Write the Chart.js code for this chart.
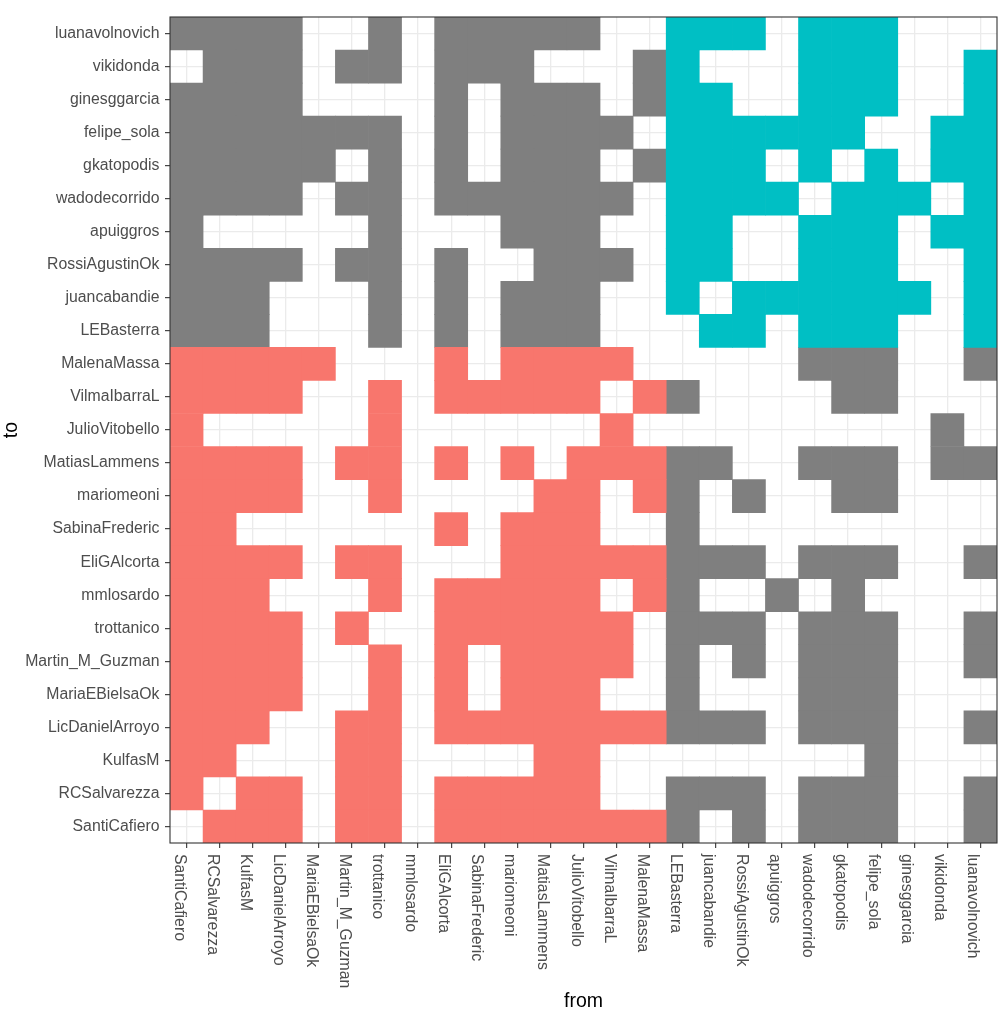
<!DOCTYPE html>
<html>
<head>
<meta charset="utf-8">
<script src="https://cdn.jsdelivr.net/npm/chart.js@4"></script>
<style>
  html, body { margin: 0; padding: 0; background: #ffffff; }
  #wrap { width: 1008px; height: 1024px; }
</style>
</head>
<body>
<div id="wrap"><canvas id="c" width="1008" height="1024"></canvas></div>
<script>
// Accounts of the first bloc (red inside the bloc)
const groupRed = ["SantiCafiero","RCSalvarezza","KulfasM","LicDanielArroyo","MariaEBielsaOk",
  "Martin_M_Guzman","trottanico","mmlosardo","EliGAlcorta","SabinaFrederic","mariomeoni",
  "MatiasLammens","JulioVitobello","VilmaIbarraL","MalenaMassa"];
// Accounts of the second bloc (cyan inside the bloc)
const groupCyan = ["LEBasterra","juancabandie","RossiAgustinOk","apuiggros","wadodecorrido",
  "gkatopodis","felipe_sola","ginesggarcia","vikidonda","luanavolnovich"];
// Axis order ("from" left to right, "to" bottom to top)
const nodes = groupRed.concat(groupCyan);

// "to" rows as read from top to bottom
const toLabels = ["luanavolnovich","vikidonda","ginesggarcia","felipe_sola","gkatopodis",
  "wadodecorrido","apuiggros","RossiAgustinOk","juancabandie","LEBasterra","MalenaMassa",
  "VilmaIbarraL","JulioVitobello","MatiasLammens","mariomeoni","SabinaFrederic","EliGAlcorta",
  "mmlosardo","trottanico","Martin_M_Guzman","MariaEBielsaOk","LicDanielArroyo","KulfasM",
  "RCSalvarezza","SantiCafiero"];

// 1 = link from the "from" account (column, in nodes order) to the row's account
const linkRows = [
  "1111001011111001110111000",
  "0111011011100011000111001",
  "1111000010111011100111001",
  "1111111010111101111110011",
  "1111101010111011110101011",
  "1111011011111101111011101",
  "1000001000111001100111011",
  "1111011010011101100111001",
  "1110001010111001011111101",
  "1110001010111000110111001",
  "1111100010111100000111001",
  "1111001011111011000011000",
  "1000001000000100000000010",
  "1111011010101111100111011",
  "1111001000011011010011000",
  "1100000010111001000000000",
  "1111011000111111110111001",
  "1110001011111011001010000",
  "1111010011111101110111001",
  "1111001010111101010111001",
  "1111001010111001000111000",
  "1110011011111111110111001",
  "1100011000011000000001000",
  "1011011011111001110111001",
  "0111011011111111010111001"
];

const cells = { red: [], cyan: [], gray: [] };
toLabels.forEach((to, i) => {
  const yv = nodes.indexOf(to);
  const toRed = groupRed.includes(to);
  linkRows[i].split('').forEach((c, j) => {
    if (c !== '1') return;
    const from = nodes[j];
    const fromRed = groupRed.includes(from);
    const key = (fromRed && toRed) ? 'red' : (!fromRed && !toRed) ? 'cyan' : 'gray';
    cells[key].push({ x: from, y: [yv - 0.5, yv + 0.5] });
  });
});

const FONT = "'Liberation Sans', Arial, Helvetica, sans-serif";
const TICK_SIZE = 15.8;
const TICK_COLOR = '#4D4D4D';

const panelPlugin = {
  id: 'panel',
  afterDraw(chart) {
    const { ctx, chartArea: a } = chart;
    const xs = chart.scales.x;
    ctx.save();
    ctx.strokeStyle = '#333333';
    ctx.lineWidth = 1.1;
    ctx.strokeRect(a.left, a.top, a.right - a.left, a.bottom - a.top);
    ctx.fillStyle = TICK_COLOR;
    ctx.font = TICK_SIZE + 'px ' + FONT;
    ctx.textAlign = 'left';
    ctx.textBaseline = 'alphabetic';
    nodes.forEach((name, i) => {
      const px = xs.getPixelForTick(i);
      ctx.save();
      ctx.translate(px - 12, a.bottom + 11);
      ctx.rotate(Math.PI / 2);
      ctx.fillText(name, 0, 0);
      ctx.restore();
    });
    ctx.restore();
  }
};

const common = { grouped: false, barPercentage: 1, categoryPercentage: 1, borderWidth: 0, borderSkipped: false };

new Chart(document.getElementById('c'), {
  type: 'bar',
  data: {
    labels: nodes,
    datasets: [
      Object.assign({ label: 'red', data: cells.red, backgroundColor: '#F8766D' }, common),
      Object.assign({ label: 'cyan', data: cells.cyan, backgroundColor: '#00BFC4' }, common),
      Object.assign({ label: 'gray', data: cells.gray, backgroundColor: '#7F7F7F' }, common)
    ]
  },
  options: {
    responsive: false,
    animation: false,
    layout: { padding: { top: 17, right: 11, bottom: 0, left: 0 } },
    plugins: { legend: { display: false }, tooltip: { enabled: false } },
    scales: {
      x: {
        type: 'category',
        offset: true,
        grid: { offset: false, color: '#EBEBEB', lineWidth: 1.3, tickColor: '#333333', tickLength: 5, tickWidth: 1.1 },
        border: { display: false },
        ticks: { autoSkip: false, maxRotation: 0, callback: () => '' },
        title: { display: true, text: 'from', color: '#000000', font: { family: FONT, size: 19.5 }, padding: { top: 0, bottom: 11 } },
        afterFit: (s) => { s.height = 181; }
      },
      y: {
        type: 'linear',
        min: -0.5,
        max: 24.5,
        grid: { color: '#EBEBEB', lineWidth: 1.3, tickColor: '#333333', tickLength: 5, tickWidth: 1.1 },
        border: { display: false },
        afterBuildTicks: (s) => { s.ticks = nodes.map((_, i) => ({ value: i })); },
        ticks: {
          autoSkip: false,
          padding: 5.5,
          color: TICK_COLOR,
          font: { family: FONT, size: TICK_SIZE },
          callback: (v) => nodes[v] !== undefined ? nodes[v] : ''
        },
        title: { display: true, text: 'to', color: '#000000', font: { family: FONT, size: 19.5 }, padding: { top: 0, bottom: 0 } },
        afterFit: (s) => { s.width = 170; }
      }
    }
  },
  plugins: [panelPlugin]
});
</script>
</body>
</html>
